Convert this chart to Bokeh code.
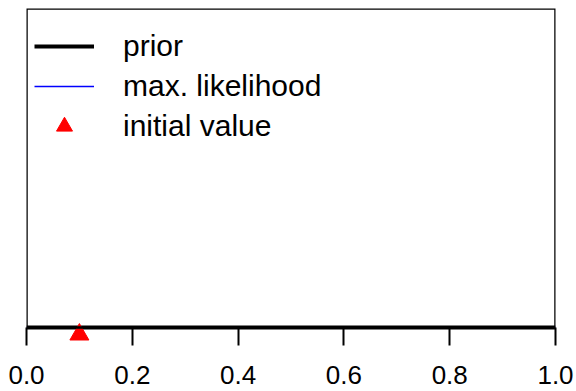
from bokeh.plotting import figure
from bokeh.models import Range1d, FixedTicker, Legend, LegendItem, NumeralTickFormatter, BoxAnnotation
from bokeh.embed import file_html
from bokeh.resources import INLINE

# data
grid_x = [0.0, 1.0]
prior_y = [0.0, 0.0]
ml_y = [0.0, 0.0]
init_x = [0.1]
init_y = [-0.022]
ticks = [0.0, 0.2, 0.4, 0.6, 0.8, 1.0]

p = figure(width=576, height=391, output_backend="svg", toolbar_location=None,
           x_range=Range1d(0, 1), y_range=Range1d(-18 / 319, 1),
           min_border_left=26, min_border_right=21, min_border_top=8, min_border_bottom=46)
p.grid.visible = False
p.yaxis.visible = False
p.outline_line_color = None
p.background_fill_color = "white"
p.border_fill_color = "white"

ax = p.xaxis[0]
ax.ticker = FixedTicker(ticks=ticks)
ax.formatter = NumeralTickFormatter(format="0.0")
ax.axis_line_color = None
ax.major_tick_out = 0
ax.major_tick_in = 18
ax.major_tick_line_width = 2
ax.minor_tick_line_color = None
ax.major_label_text_font = "Liberation Sans"
ax.major_label_text_font_size = "26px"
ax.major_label_text_color = "black"
ax.major_label_standoff = 20

box = BoxAnnotation(left=0, right=1, bottom=0, top=1, fill_alpha=0,
                    line_color="black", line_alpha=1.0, line_width=2.5)
p.add_layout(box)

r_ml = p.line(grid_x, ml_y, line_color="blue", line_width=1.5)
r_prior = p.line(grid_x, prior_y, line_color="black", line_width=4)
r_init = p.scatter(init_x, init_y, marker="triangle", size=19, color="red")

legend = Legend(items=[LegendItem(label="prior", renderers=[r_prior]),
                       LegendItem(label="max. likelihood", renderers=[r_ml]),
                       LegendItem(label="initial value", renderers=[r_init])],
                location=(8, 199), border_line_color=None, background_fill_alpha=0,
                glyph_width=60, glyph_height=40, label_height=40, spacing=0,
                padding=8, margin=0, label_standoff=29,
                label_text_font="Liberation Sans", label_text_font_size="30px",
                label_text_color="black")
p.add_layout(legend)

open("out.html", "w").write(file_html(p, INLINE))
